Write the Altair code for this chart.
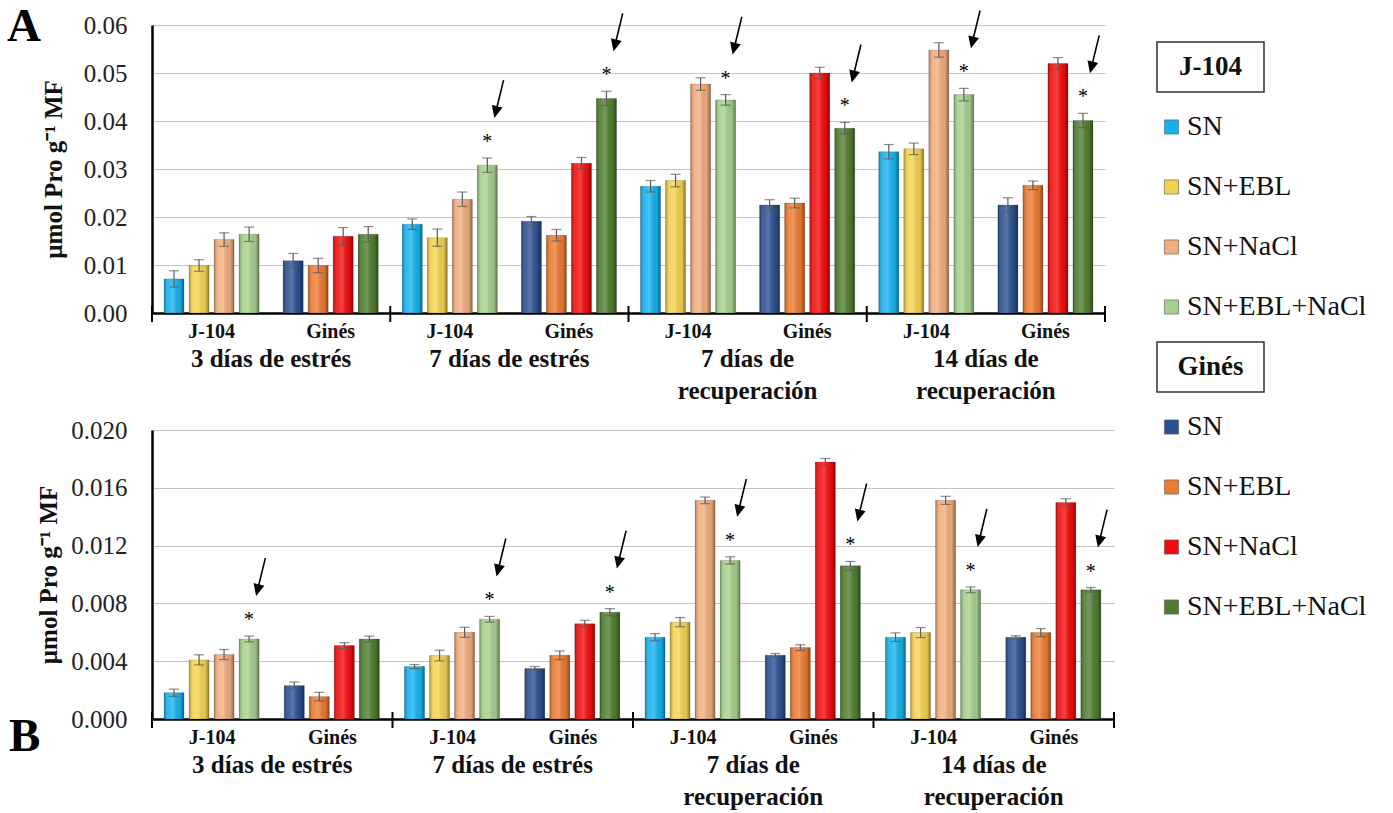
import math

import altair as alt
import pandas as pd

SERIF = "Liberation Serif"

GROUPS = ["3 días de estrés", "7 días de estrés", "7 días de\nrecuperación", "14 días de\nrecuperación"]
CULTIVARS = ["J-104", "Ginés"]
TREATMENTS = ["SN", "SN+EBL", "SN+NaCl", "SN+EBL+NaCl"]

COLORS_J104 = ["#16B2EE", "#F4D24F", "#F1AD7E", "#A6D08B"]
COLORS_GINES = ["#2B5090", "#EC7B31", "#F40C0C", "#4F7D2F"]

# ---- Panel A (µmol Pro g-1 MF), one value per time point ----
A_J104_SN = [0.0071, 0.0185, 0.0264, 0.0336]
A_J104_SN_ERR = [0.0017, 0.0011, 0.0012, 0.0015]
A_J104_EBL = [0.0099, 0.0157, 0.0276, 0.0342]
A_J104_EBL_ERR = [0.0012, 0.0018, 0.0013, 0.0012]
A_J104_NACL = [0.0153, 0.0237, 0.0477, 0.0548]
A_J104_NACL_ERR = [0.0014, 0.0015, 0.0013, 0.0015]
A_J104_EBLNACL = [0.0164, 0.0308, 0.0444, 0.0455]
A_J104_EBLNACL_ERR = [0.0015, 0.0015, 0.0011, 0.0013]
A_GINES_SN = [0.0109, 0.0191, 0.0225, 0.0225]
A_GINES_SN_ERR = [0.0015, 0.0010, 0.0011, 0.0015]
A_GINES_EBL = [0.0099, 0.0162, 0.0229, 0.0266]
A_GINES_EBL_ERR = [0.0015, 0.0012, 0.0010, 0.0009]
A_GINES_NACL = [0.0160, 0.0312, 0.0500, 0.0520]
A_GINES_NACL_ERR = [0.0018, 0.0012, 0.0012, 0.0012]
A_GINES_EBLNACL = [0.0164, 0.0447, 0.0385, 0.0401]
A_GINES_EBLNACL_ERR = [0.0016, 0.0015, 0.0012, 0.0015]
A_J104_STAR = [False, True, True, True]
A_GINES_STAR = [False, True, True, True]

# ---- Panel B ----
B_J104_SN = [0.00182, 0.00363, 0.00566, 0.00566]
B_J104_SN_ERR = [0.00025, 0.00014, 0.00025, 0.00030]
B_J104_EBL = [0.00409, 0.00439, 0.00670, 0.00598]
B_J104_EBL_ERR = [0.00035, 0.00037, 0.00032, 0.00035]
B_J104_NACL = [0.00446, 0.00600, 0.01513, 0.01513]
B_J104_NACL_ERR = [0.00035, 0.00035, 0.00023, 0.00028]
B_J104_EBLNACL = [0.00554, 0.00690, 0.01097, 0.00894]
B_J104_EBLNACL_ERR = [0.00020, 0.00020, 0.00025, 0.00020]
B_GINES_SN = [0.00231, 0.00349, 0.00441, 0.00566]
B_GINES_SN_ERR = [0.00025, 0.00014, 0.00012, 0.00010]
B_GINES_EBL = [0.00155, 0.00441, 0.00494, 0.00598]
B_GINES_EBL_ERR = [0.00030, 0.00030, 0.00020, 0.00028]
B_GINES_NACL = [0.00508, 0.00660, 0.01778, 0.01499]
B_GINES_NACL_ERR = [0.00020, 0.00023, 0.00025, 0.00025]
B_GINES_EBLNACL = [0.00554, 0.00739, 0.01060, 0.00894]
B_GINES_EBLNACL_ERR = [0.00020, 0.00025, 0.00030, 0.00016]
B_J104_STAR = [True, True, True, True]
B_GINES_STAR = [False, True, True, True]

A_TICKS = [0.0, 0.01, 0.02, 0.03, 0.04, 0.05, 0.06]
B_TICKS = [0.0, 0.004, 0.008, 0.012, 0.016, 0.020]

KEYS = [f"{c} {t}" for c in CULTIVARS for t in TREATMENTS]
KEY_COLORS = COLORS_J104 + COLORS_GINES
ERR_COLOR = "#5A5A5A"
Y_TITLE = "µmol Pro  g⁻¹ MF"

# cylinder-like shading laid over every bar
SHADE = {
    "gradient": "linear", "x1": 0, "x2": 1, "y1": 0, "y2": 0,
    "stops": [
        {"offset": 0.0, "color": "rgba(0,0,0,0.32)"},
        {"offset": 0.2, "color": "rgba(255,255,255,0.10)"},
        {"offset": 0.45, "color": "rgba(255,255,255,0.22)"},
        {"offset": 0.8, "color": "rgba(0,0,0,0.05)"},
        {"offset": 1.0, "color": "rgba(0,0,0,0.42)"},
    ],
}


def arrow_path(tip=(7.0, -40.0), length=39.0, tilt=13.7, head_len=12.0,
               head_half=5.5, shaft_half=0.8, unit=10.0):
    """Slanted arrow (pixels relative to the top of the error bar) as a symbol path."""
    th = math.radians(tilt)
    d = (-math.sin(th), math.cos(th))
    p = (d[1], -d[0])
    tail = (tip[0] - length * d[0], tip[1] - length * d[1])
    base = (tip[0] - head_len * d[0], tip[1] - head_len * d[1])

    def pt(o, k):
        return (o[0] + k * p[0], o[1] + k * p[1])

    pts = [pt(tail, -shaft_half), pt(tail, shaft_half), pt(base, shaft_half),
           pt(base, head_half), tip, pt(base, -head_half), pt(base, -shaft_half)]
    return "M" + " L".join(f"{x / unit:.3f},{y / unit:.3f}" for x, y in pts) + " Z"


ARROW = arrow_path()


def build_frame(values, errors, stars):
    rows = []
    for gi, g in enumerate(GROUPS):
        for c in CULTIVARS:
            for ti, t in enumerate(TREATMENTS):
                v = values[c][ti][gi]
                e = errors[c][ti][gi]
                rows.append({
                    "group": g, "cultivar": c, "cat": f"{gi}|{c}", "treatment": t,
                    "key": f"{c} {t}", "value": v, "lo": v - e, "hi": v + e,
                    "star": bool(stars[c][gi] and t == TREATMENTS[-1]),
                })
    return pd.DataFrame(rows)


def panel(df, y_max, y_ticks, y_fmt, width, height, letter, letter_x, letter_y, title_pad):
    cats = list(dict.fromkeys(df["cat"]))
    x_scale = alt.Scale(domain=cats, paddingInner=0, paddingOuter=0)
    off_scale = alt.Scale(domain=TREATMENTS, paddingInner=0.2, paddingOuter=0.48)
    y_scale = alt.Scale(domain=[0, y_max], nice=False, zero=True)

    x_axis = alt.Axis(
        title=None, labelExpr="split(datum.label, '|')[1]", labelAngle=0,
        labelFont=SERIF, labelFontSize=20, labelFontWeight="bold", labelColor="#111",
        labelPadding=8, ticks=False, domainColor="black", domainWidth=2.5, grid=False,
    )
    y_axis = alt.Axis(
        title=Y_TITLE, titleFont=SERIF, titleFontSize=25, titleFontWeight="bold",
        titleColor="#111", titlePadding=title_pad, values=y_ticks, format=y_fmt,
        labelFont=SERIF, labelFontSize=25, labelColor="#222", labelPadding=25,
        ticks=False, domainColor="black", domainWidth=2.5,
        gridColor="#C4C4C4", gridWidth=1,
    )

    def x_at(band=None):
        if band is None:
            return alt.X("cat:N", scale=x_scale, axis=x_axis)
        return alt.X("cat:N", scale=x_scale, axis=x_axis, bandPosition=band)

    def y_of(field):
        return alt.Y(f"{field}:Q", scale=y_scale, axis=y_axis)

    xo = alt.XOffset("treatment:N", scale=off_scale)

    base = alt.Chart(df)
    bars = base.mark_bar().encode(
        x=x_at(), xOffset=xo, y=y_of("value"),
        color=alt.Color("key:N", scale=alt.Scale(domain=KEYS, range=KEY_COLORS), legend=None),
    )
    shade = base.mark_bar(color=SHADE, stroke="rgba(0,0,0,0.25)", strokeWidth=0.6).encode(
        x=x_at(), xOffset=xo, y=y_of("value"))
    whisker = base.mark_rule(color=ERR_COLOR, strokeWidth=1.2).encode(
        x=x_at(), xOffset=xo, y=y_of("lo"), y2="hi:Q")
    cap_hi = base.mark_tick(color=ERR_COLOR, thickness=1.2, size=10, orient="horizontal").encode(
        x=x_at(), xOffset=xo, y=y_of("hi"))
    cap_lo = base.mark_tick(color=ERR_COLOR, thickness=1.2, size=10, orient="horizontal").encode(
        x=x_at(), xOffset=xo, y=y_of("lo"))

    starred = base.transform_filter("datum.star")
    stars = starred.mark_text(text="*", font=SERIF, fontSize=20, color="black",
                              baseline="alphabetic", dy=-10).encode(
        x=x_at(), xOffset=xo, y=y_of("hi"))
    arrows = starred.mark_point(shape=ARROW, size=400, filled=True, color="black",
                                opacity=1, strokeWidth=0).encode(
        x=x_at(), xOffset=xo, y=y_of("hi"))

    lead = df[(df["cultivar"] == CULTIVARS[0]) & (df["treatment"] == TREATMENTS[0])]
    last = df[(df["cultivar"] == CULTIVARS[-1]) & (df["treatment"] == TREATMENTS[0])].tail(1)
    seps = alt.Chart(lead).mark_rule(color="black", strokeWidth=2).encode(
        x=x_at(0), y=alt.value(height - 7), y2=alt.value(height + 9))
    end_sep = alt.Chart(last).mark_rule(color="black", strokeWidth=2).encode(
        x=x_at(1), y=alt.value(height - 7), y2=alt.value(height + 9))
    group_labels = alt.Chart(lead).mark_text(
        font=SERIF, fontSize=25, fontWeight="bold", color="#111", baseline="top",
        align="center", lineBreak="\n", lineHeight=32).encode(
        x=x_at(1), y=alt.value(height + 34), text="group:N")
    tag = alt.Chart(pd.DataFrame({"tag": [letter]})).mark_text(
        font=SERIF, fontSize=47, fontWeight="bold", color="black", align="left",
        baseline="alphabetic").encode(x=alt.value(letter_x), y=alt.value(letter_y), text="tag:N")

    return alt.layer(bars, shade, whisker, cap_hi, cap_lo, stars, arrows,
                     seps, end_sep, group_labels, tag).properties(width=width, height=height)


df_a = build_frame(
    {"J-104": [A_J104_SN, A_J104_EBL, A_J104_NACL, A_J104_EBLNACL],
     "Ginés": [A_GINES_SN, A_GINES_EBL, A_GINES_NACL, A_GINES_EBLNACL]},
    {"J-104": [A_J104_SN_ERR, A_J104_EBL_ERR, A_J104_NACL_ERR, A_J104_EBLNACL_ERR],
     "Ginés": [A_GINES_SN_ERR, A_GINES_EBL_ERR, A_GINES_NACL_ERR, A_GINES_EBLNACL_ERR]},
    {"J-104": A_J104_STAR, "Ginés": A_GINES_STAR},
)
df_b = build_frame(
    {"J-104": [B_J104_SN, B_J104_EBL, B_J104_NACL, B_J104_EBLNACL],
     "Ginés": [B_GINES_SN, B_GINES_EBL, B_GINES_NACL, B_GINES_EBLNACL]},
    {"J-104": [B_J104_SN_ERR, B_J104_EBL_ERR, B_J104_NACL_ERR, B_J104_EBLNACL_ERR],
     "Ginés": [B_GINES_SN_ERR, B_GINES_EBL_ERR, B_GINES_NACL_ERR, B_GINES_EBLNACL_ERR]},
    {"J-104": B_J104_STAR, "Ginés": B_GINES_STAR},
)

panel_a = panel(df_a, 0.06, A_TICKS, ".2f", 953, 288, "A", -145, 16, 17)
panel_b = panel(df_b, 0.020, B_TICKS, ".3f", 962, 289, "B", -143, 321, 9)

# ---- legend: one boxed heading per cultivar, then its four treatments ----
legend_rows = []
for cult, cols in zip(CULTIVARS, [COLORS_J104, COLORS_GINES]):
    legend_rows.append({"row": cult, "kind": "title", "label": cult, "color": "#FFFFFF"})
    for t, col in zip(TREATMENTS, cols):
        legend_rows.append({"row": f"{cult} {t}", "kind": "item", "label": t, "color": col})
legend_df = pd.DataFrame(legend_rows)
row_y = alt.Y("row:N", scale=alt.Scale(domain=list(legend_df["row"]), paddingInner=0.167,
                                       paddingOuter=0.283), axis=None)
leg = alt.Chart(legend_df)
leg_box = leg.transform_filter("datum.kind == 'title'").mark_rect(
    fill="white", stroke="#333333", strokeWidth=1.5).encode(
    x=alt.value(10), x2=alt.value(117), y=row_y)
leg_title = leg.transform_filter("datum.kind == 'title'").mark_text(
    font=SERIF, fontSize=27, fontWeight="bold", color="#111", align="center",
    baseline="middle").encode(x=alt.value(63.5), y=row_y, text="label:N")
leg_swatch = leg.transform_filter("datum.kind == 'item'").mark_square(
    size=200, opacity=1, stroke="#555555", strokeWidth=0.6).encode(
    x=alt.value(24.5), y=row_y, color=alt.Color("color:N", scale=None))
leg_text = leg.transform_filter("datum.kind == 'item'").mark_text(
    font=SERIF, fontSize=28, color="#111", align="left", baseline="middle").encode(
    x=alt.value(40), y=row_y, text="label:N")
legend = alt.layer(leg_box, leg_title, leg_swatch, leg_text).properties(width=245, height=624)

chart = alt.hconcat(
    alt.vconcat(panel_a, panel_b, spacing=14),
    legend,
    spacing=32,
).properties(
    padding={"left": 7, "top": 3, "right": 0, "bottom": 0},
    background="white",
).configure_view(stroke=None)

chart.save("out.html", embed_options={"renderer": "svg", "actions": False})
